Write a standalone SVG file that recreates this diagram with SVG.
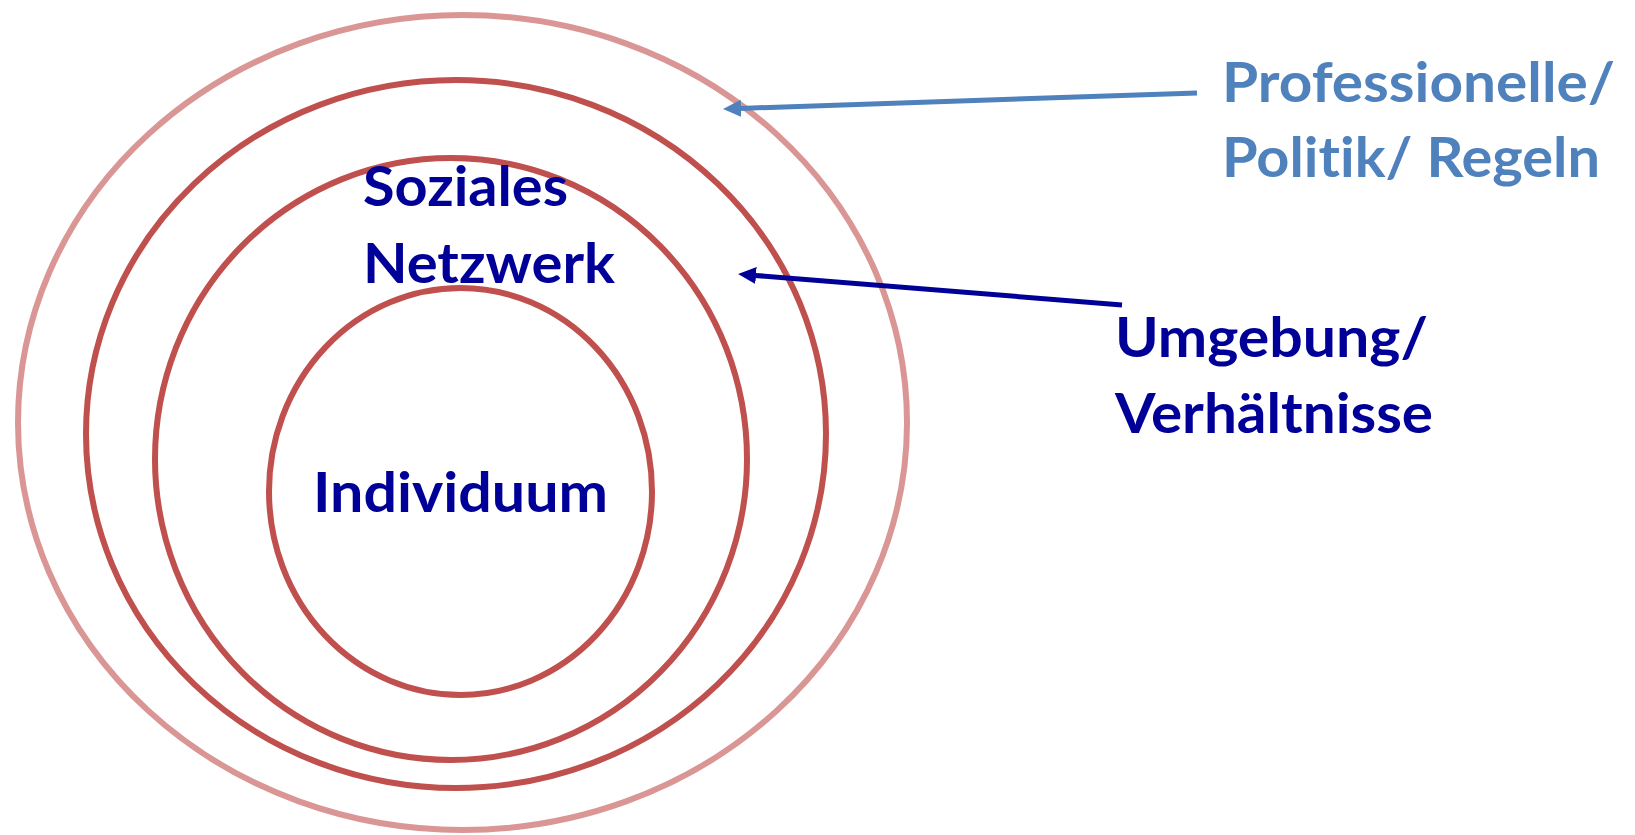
<svg xmlns="http://www.w3.org/2000/svg" width="1635" height="835" viewBox="0 0 1635 835">
  <style>
    .ring { fill: none; stroke: #C0504D; stroke-width: 6; }
    .ring-outer { fill: none; stroke: #D99694; stroke-width: 6; }
    .lbl { font-family: Lato, "Open Sans", "Liberation Sans", sans-serif; font-weight: bold; font-size: 56px; font-variant-ligatures: none; font-feature-settings: "liga" 0, "clig" 0; }
    .dark { fill: #000099; }
    .light { fill: #4F81BD; }
    .conn-light { stroke: #4F81BD; stroke-width: 5; fill: none; }
    .conn-dark { stroke: #000099; stroke-width: 5; fill: none; }
  </style>
  <defs>
    <marker id="headLight" viewBox="0 -9 18 18" markerWidth="18" markerHeight="18" refX="1" refY="0" orient="auto" markerUnits="userSpaceOnUse">
      <path d="M0,-8.5 L18,0 L0,8.5 Z" fill="#4F81BD"/>
    </marker>
    <marker id="headDark" viewBox="0 -9 18 18" markerWidth="18" markerHeight="18" refX="1" refY="0" orient="auto" markerUnits="userSpaceOnUse">
      <path d="M0,-8.5 L18,0 L0,8.5 Z" fill="#000099"/>
    </marker>
  </defs>
  <rect width="1635" height="835" fill="#ffffff"/>

  <g id="ring-professionelle">
    <ellipse class="ring-outer" cx="462.5" cy="422.5" rx="444.5" ry="407.5"/>
  </g>
  <g id="ring-umgebung">
    <ellipse class="ring" cx="456" cy="434" rx="370" ry="354"/>
  </g>
  <g id="ring-soziales">
    <ellipse class="ring" cx="451" cy="459" rx="296" ry="301"/>
    <text class="lbl dark" x="363" y="206" textLength="205" lengthAdjust="spacingAndGlyphs">Soziales</text>
    <text class="lbl dark" x="363" y="283" textLength="252" lengthAdjust="spacingAndGlyphs">Netzwerk</text>
  </g>
  <g id="ring-individuum">
    <ellipse class="ring" cx="460.5" cy="491.5" rx="191.5" ry="203.5"/>
    <text class="lbl dark" x="313" y="512" textLength="295" lengthAdjust="spacingAndGlyphs">Individuum</text>
  </g>

  <g id="label-professionelle">
    <text class="lbl light" x="1222" y="102" textLength="393" lengthAdjust="spacingAndGlyphs">Professionelle/</text>
    <text class="lbl light" x="1222" y="177" textLength="378" lengthAdjust="spacingAndGlyphs">Politik/ Regeln</text>
  </g>
  <g id="label-umgebung">
    <text class="lbl dark" x="1115" y="357" textLength="313" lengthAdjust="spacingAndGlyphs">Umgebung/</text>
    <text class="lbl dark" x="1115" y="433" textLength="318" lengthAdjust="spacingAndGlyphs">Verhältnisse</text>
  </g>

  <g id="connectors">
    <line class="conn-light" x1="1197" y1="93" x2="740" y2="108.4" marker-end="url(#headLight)"/>
    <line class="conn-dark" x1="1122" y1="305" x2="755" y2="275.4" marker-end="url(#headDark)"/>
  </g>
</svg>
